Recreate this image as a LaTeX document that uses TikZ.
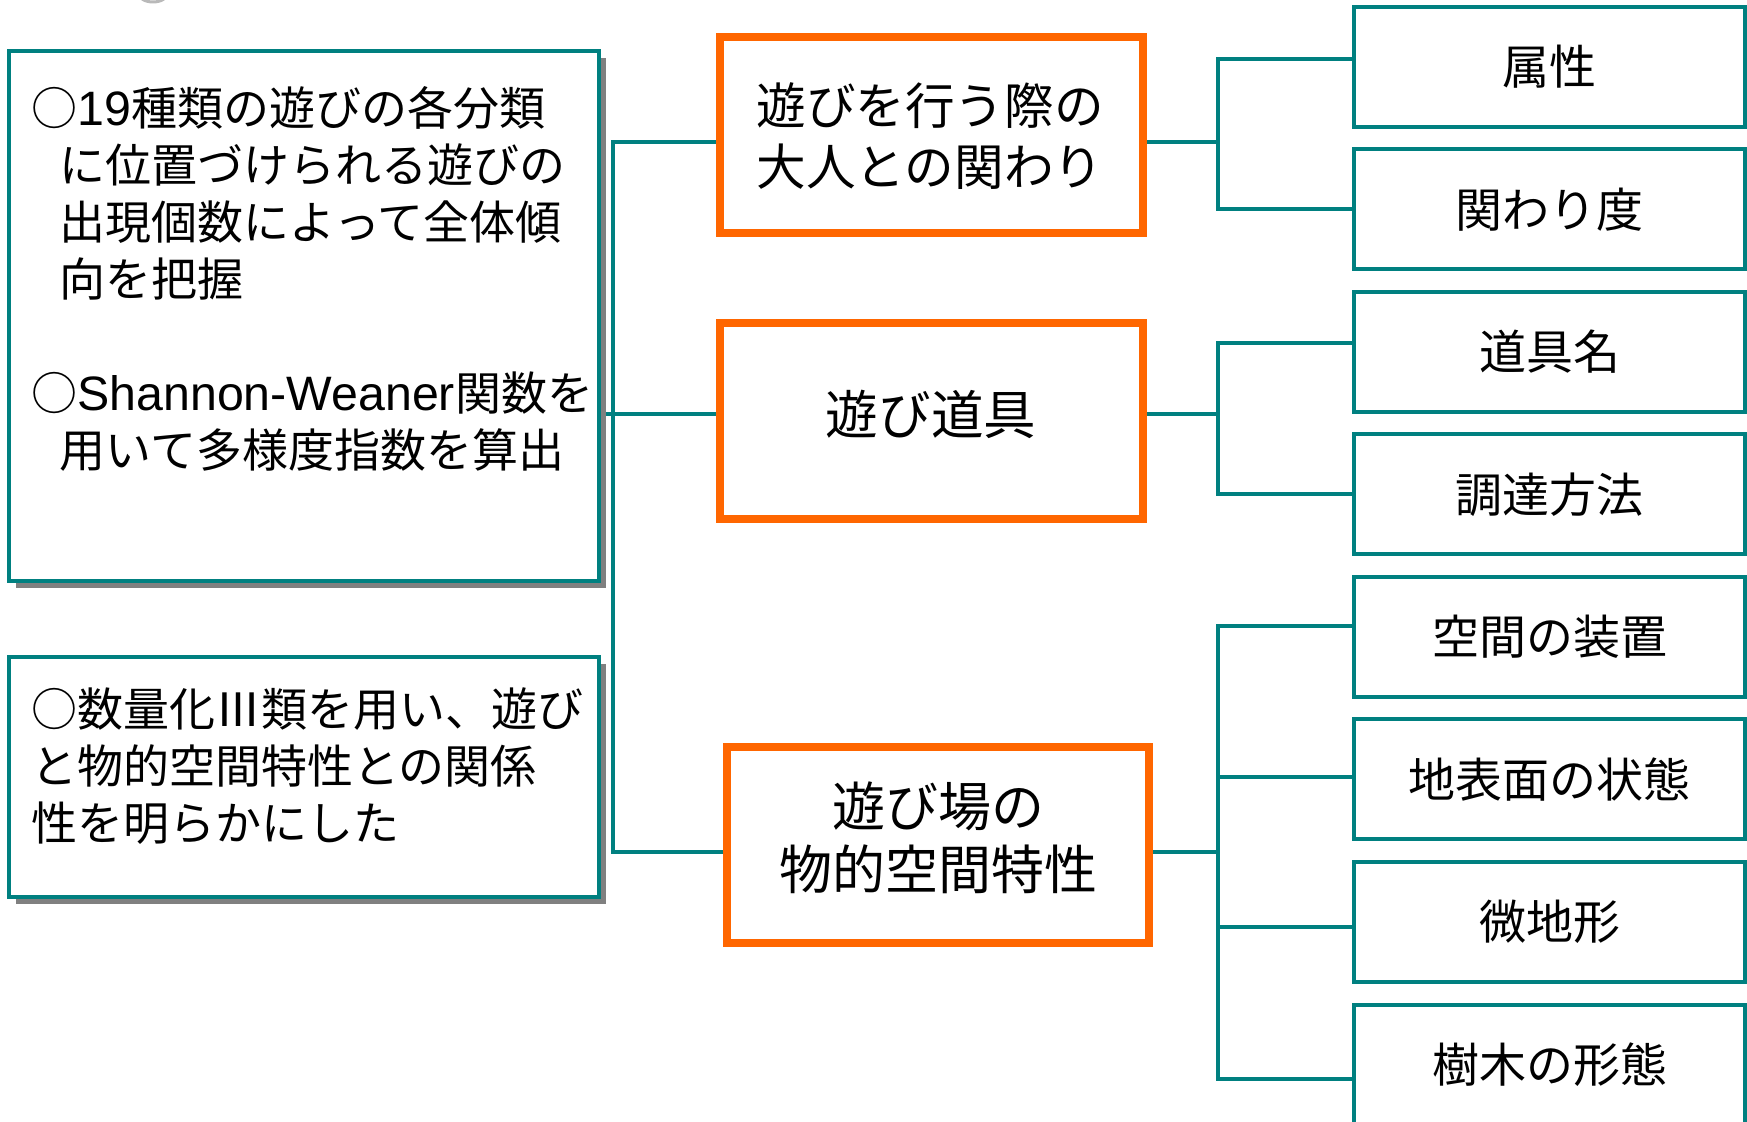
\documentclass[tikz,border=0pt]{standalone}
\usepackage{fontspec}
\setmainfont{Noto Sans CJK JP}
\newfontfamily\latinfont{Liberation Sans}[Scale=1.05]
\newcommand{\lat}[1]{{\latinfont #1}}
\usetikzlibrary{shadows}
\definecolor{mteal}{RGB}{0,128,128}
\definecolor{morange}{RGB}{255,102,0}
\definecolor{mshadow}{RGB}{128,128,128}
\pgfdeclarelayer{bottom}
\pgfdeclarelayer{wires}
\pgfsetlayers{bottom,wires,main}
\begin{document}
\begin{tikzpicture}[x=0.5pt,y=-0.5pt,
  conn/.style={draw=mteal,line width=2pt},
  leftbox/.style={draw=mteal,line width=1.75pt,fill=white,rectangle,minimum width=295pt,inner sep=0pt,
    drop shadow={shadow xshift=3.5pt,shadow yshift=-3.5pt,fill=mshadow,opacity=1}},
  lefttext/.style={inner sep=0pt,align=left,font=\fontsize{23pt}{28.5pt}\selectfont},
  obox/.style={draw=morange,line width=4pt,fill=white,rectangle,inner sep=0pt,minimum height=98pt},
  otext/.style={inner sep=0pt,align=center},
  rbox/.style={draw=mteal,line width=2pt,fill=white,rectangle,minimum width=195.5pt,minimum height=60pt,
    inner sep=0pt,font=\fontsize{23.5pt}{28pt}\selectfont}
]
\useasboundingbox (0,0) rectangle (1747,1122);
\begin{pgfonlayer}{bottom}
\fill[white] (0,0) rectangle (1747,1122);
\draw[gray!55,line width=1.5pt] (142,-1) .. controls (148,3) and (158,3) .. (164,-1);
\end{pgfonlayer}

% left boxes
\node[leftbox,minimum height=265pt] (lb1) at (304,316) {};
\node[leftbox,minimum height=120pt] (lb2) at (304,777) {};
\node[lefttext,anchor=west] (lt1) at (31,279) {○\lat{19}種類の遊びの各分類\\\hspace*{14pt}に位置づけられる遊びの\\\hspace*{14pt}出現個数によって全体傾\\\hspace*{14pt}向を把握\\[28.5pt]○\lat{Shannon-Weaner}関数を\\\hspace*{14pt}用いて多様度指数を算出};
\node[lefttext,anchor=west] (lt2) at (31,766) {○数量化\makebox[1em][c]{Ⅲ}類を用い、遊び\\と物的空間特性との関係\\性を明らかにした};

% orange boxes
\node[obox,minimum width=211.5pt] (o1) at (931.5,135) {};
\node[obox,minimum width=211.5pt] (o2) at (931.5,421) {};
\node[obox,minimum width=211pt] (o3) at (938,845) {};
\node[otext,font=\fontsize{24.8pt}{30.5pt}\selectfont] (ot1) at (930,136.5) {遊びを行う際の\\大人との関わり};
\node[otext,font=\fontsize{26.3pt}{31.5pt}\selectfont] (ot2) at (931,414.5) {遊び道具};
\node[otext,font=\fontsize{26.5pt}{31.5pt}\selectfont] (ot3) at (938,837.5) {遊び場の\\物的空間特性};

% right boxes
\node[rbox] (r1) at (1549.5,67) {属性};
\node[rbox] (r2) at (1549.5,209.5) {関わり度};
\node[rbox] (r3) at (1549.5,352) {道具名};
\node[rbox] (r4) at (1549.5,494.5) {調達方法};
\node[rbox] (r5) at (1549.5,637) {空間の装置};
\node[rbox] (r6) at (1549.5,779.5) {地表面の状態};
\node[rbox] (r7) at (1549.5,922) {微地形};
\node[rbox] (r8) at (1549.5,1064.5) {樹木の形態};

% connectors
\coordinate (L1) at (613,142);
\coordinate (L2) at (613,414);
\coordinate (L3) at (613,852);
\coordinate (J1) at (1218,142);
\coordinate (J2) at (1218,414);
\coordinate (J3) at (1218,852);
\coordinate (A1) at (1218,59);
\coordinate (A2) at (1218,209);
\coordinate (B1) at (1218,343);
\coordinate (B2) at (1218,494);
\coordinate (C1) at (1218,626);
\coordinate (C2) at (1218,777);
\coordinate (C3) at (1218,927);
\coordinate (C4) at (1218,1079);
\begin{pgfonlayer}{wires}
\draw[conn] (L1 -| o1.west) -- (L1) -- (L3) -- (L3 -| o3.west);
\draw[conn] (lb1.east |- L2) -- (L2 -| o2.west);
\draw[conn] (o1.east |- J1) -- (J1);
\draw[conn] (o2.east |- J2) -- (J2);
\draw[conn] (o3.east |- J3) -- (J3);
\draw[conn] (A1 -| r1.west) -- (A1) -- (A2) -- (A2 -| r2.west);
\draw[conn] (B1 -| r3.west) -- (B1) -- (B2) -- (B2 -| r4.west);
\draw[conn] (C1 -| r5.west) -- (C1) -- (C4) -- (C4 -| r8.west);
\draw[conn] (C2) -- (C2 -| r6.west);
\draw[conn] (C3) -- (C3 -| r7.west);
\end{pgfonlayer}
\end{tikzpicture}
\end{document}
